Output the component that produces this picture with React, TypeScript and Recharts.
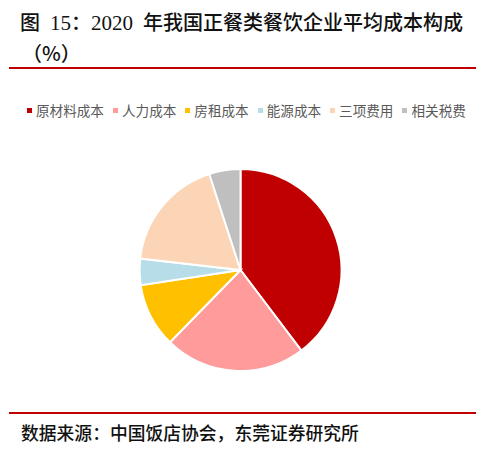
import React from 'react';
import { PieChart, Pie, Cell, Legend } from 'recharts';

const categories = ['原材料成本', '人力成本', '房租成本', '能源成本', '三项费用', '相关税费'];
const shares = [39.7, 22.6, 10.3, 4.2, 18.2, 5.0];
const colors = ['#C00000', '#FF9B9B', '#FFC000', '#B7DDE8', '#FBD5B5', '#BFBFBF'];

const data = categories.map((name, i) => ({ name, value: shares[i] }));

const serif = "'Liberation Serif', serif";
const sans = "'Noto Sans CJK SC', sans-serif";

const LegendContent = () => (
  <div style={{ display: 'flex', alignItems: 'center', fontFamily: sans, fontSize: 13.6, color: '#595959' }}>
    {categories.map((c, i) => (
      <div key={c} style={{ display: 'flex', alignItems: 'center', marginRight: i === categories.length - 1 ? 0 : 9 }}>
        <div style={{ width: 5, height: 5, background: colors[i], marginRight: 4 }} />
        <span>{c}</span>
      </div>
    ))}
  </div>
);

const titleStyle: React.CSSProperties = {
  position: 'absolute',
  fontFamily: sans,
  fontSize: 20,
  fontWeight: 500,
  color: '#111',
  whiteSpace: 'nowrap',
  lineHeight: '26px',
};

export default function App() {
  return (
    <div style={{ position: 'absolute', left: 0, top: 0, width: 493, height: 449, background: '#fff' }}>
      <div style={{ ...titleStyle, left: 20, top: 9 }}>
        <span>图</span>
        <span style={{ fontFamily: serif, fontSize: 21, fontWeight: 'normal', marginLeft: 10 }}>15</span>
        <span>：</span>
        <span style={{ fontFamily: serif, fontSize: 21, fontWeight: 'normal' }}>2020</span>
        <span style={{ marginLeft: 10 }}>年我国正餐类餐饮企业平均成本构成</span>
      </div>
      <div style={{ ...titleStyle, left: 22, top: 40 }}>（%）</div>
      <div style={{ position: 'absolute', left: 9, top: 67, width: 467, height: 2, background: '#C00000' }} />
      <PieChart width={493} height={449} margin={{ top: 0, right: 0, bottom: 0, left: 0 }}>
        <Legend
          content={<LegendContent />}
          wrapperStyle={{ position: 'absolute', left: 27, top: 100, width: 460 }}
        />
        <Pie
          data={data}
          dataKey="value"
          nameKey="name"
          cx={240.5}
          cy={270}
          outerRadius={101}
          startAngle={90}
          endAngle={-270}
          stroke="#fff"
          strokeWidth={2}
          isAnimationActive={false}
        >
          {data.map((d, i) => (
            <Cell key={d.name} fill={colors[i]} />
          ))}
        </Pie>
      </PieChart>
      <div style={{ position: 'absolute', left: 9, top: 412, width: 467, height: 2, background: '#C00000' }} />
      <div style={{ position: 'absolute', left: 21, top: 420, fontFamily: sans, fontSize: 17.8, fontWeight: 500, color: '#111', whiteSpace: 'nowrap', lineHeight: '24px' }}>
        数据来源：中国饭店协会，东莞证券研究所
      </div>
    </div>
  );
}
